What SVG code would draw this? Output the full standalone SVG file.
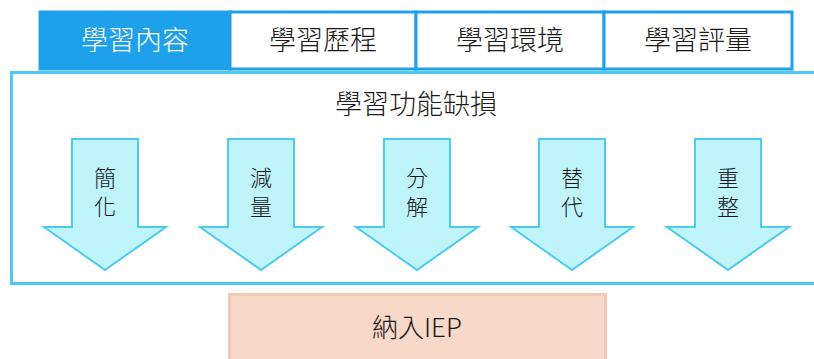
<svg xmlns="http://www.w3.org/2000/svg" width="814" height="359" viewBox="0 0 814 359">
<style>
.tab{fill:#ffffff;stroke:#1ea0ea;stroke-width:3}
.tabA{fill:#1ea0ea;stroke:#1ea0ea;stroke-width:3}
.t{font-family:"Noto Sans CJK TC","Noto Sans CJK SC",sans-serif;font-weight:300;text-anchor:middle;fill:#1a1a1a}
.arrow{fill:#bff4fb;stroke:#4ccaf2;stroke-width:2}
</style>
<defs>
<path id="arr" d="M-33,139 H33 V227 H61 L0,270 L-61,227 H-33 Z"/>
</defs>
<g id="tabs">
<g id="tab1"><rect class="tabA" x="40" y="12" width="190" height="57"/><text class="t" x="135" y="50" font-size="27" style="fill:#ffffff">學習內容</text></g>
<g id="tab2"><rect class="tab" x="230" y="12" width="186" height="57"/><text class="t" x="323" y="50" font-size="27">學習歷程</text></g>
<g id="tab3"><rect class="tab" x="416" y="12" width="188" height="57"/><text class="t" x="510" y="50" font-size="27">學習環境</text></g>
<g id="tab4"><rect class="tab" x="604" y="12" width="188" height="57"/><text class="t" x="698" y="50" font-size="27">學習評量</text></g>
</g>
<g id="main">
<rect x="11.5" y="72.5" width="812" height="211" fill="#ffffff" stroke="#4ccaf2" stroke-width="3"/>
<text class="t" x="416" y="114" font-size="27">學習功能缺損</text>
</g>
<g id="arrows">
<g id="a1"><use href="#arr" class="arrow" transform="translate(105,0)"/><text class="t" x="105" y="186" font-size="22">簡</text><text class="t" x="105" y="215" font-size="22">化</text></g>
<g id="a2"><use href="#arr" class="arrow" transform="translate(261,0)"/><text class="t" x="261" y="186" font-size="22">減</text><text class="t" x="261" y="215" font-size="22">量</text></g>
<g id="a3"><use href="#arr" class="arrow" transform="translate(417,0)"/><text class="t" x="417" y="186" font-size="22">分</text><text class="t" x="417" y="215" font-size="22">解</text></g>
<g id="a4"><use href="#arr" class="arrow" transform="translate(572,0)"/><text class="t" x="572" y="186" font-size="22">替</text><text class="t" x="572" y="215" font-size="22">代</text></g>
<g id="a5"><use href="#arr" class="arrow" transform="translate(728,0)"/><text class="t" x="728" y="186" font-size="22">重</text><text class="t" x="728" y="215" font-size="22">整</text></g>
</g>
<g id="iep">
<rect x="229.5" y="294.5" width="376" height="70" fill="#f8d8c8" stroke="#f4c8b4" stroke-width="3"/>
<text class="t" x="417" y="337" font-size="26">納入IEP</text>
</g>
</svg>
